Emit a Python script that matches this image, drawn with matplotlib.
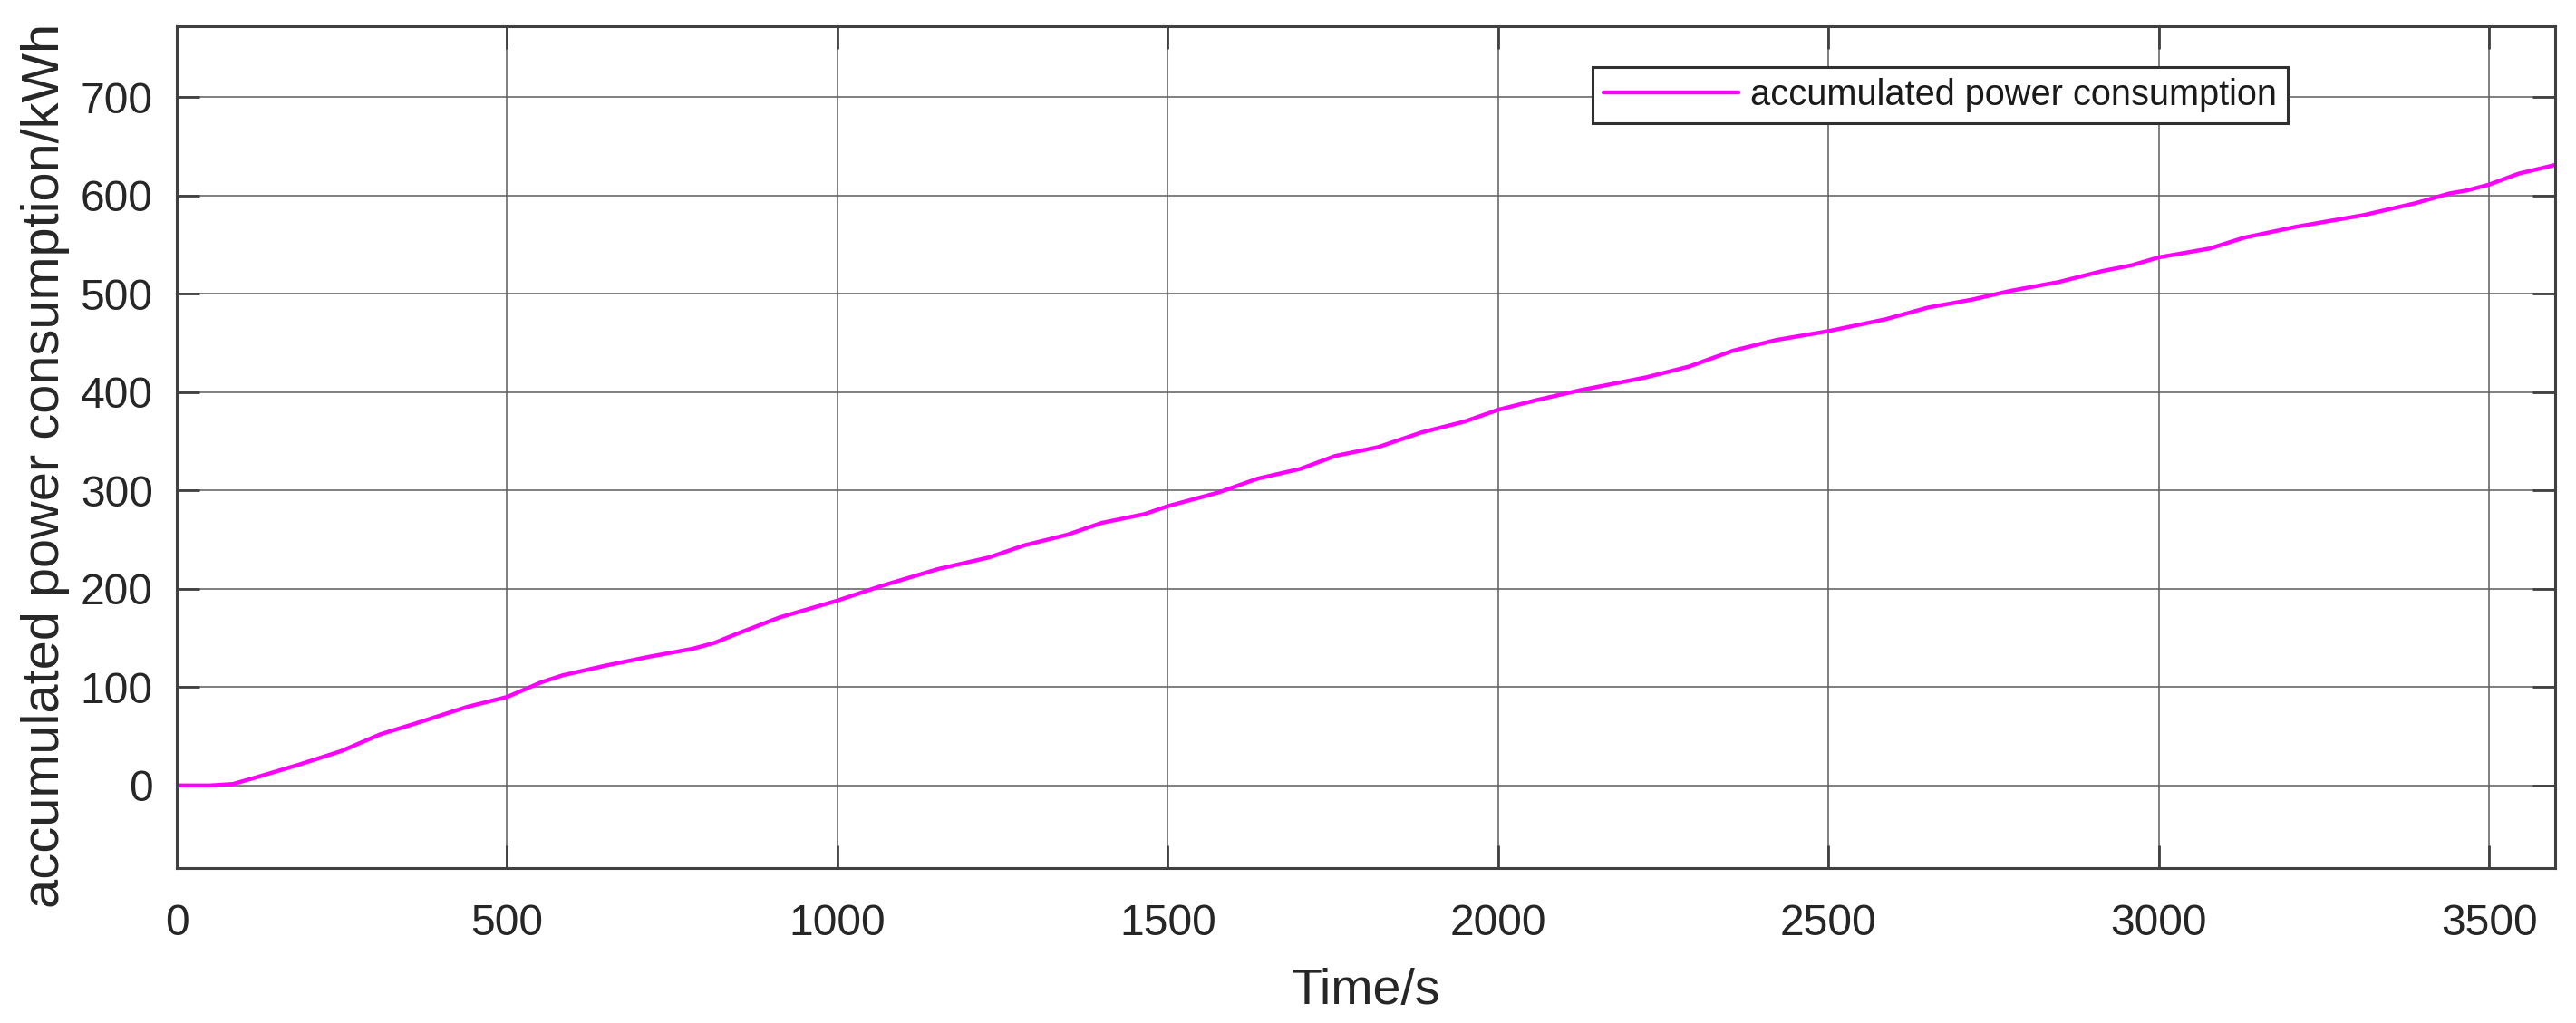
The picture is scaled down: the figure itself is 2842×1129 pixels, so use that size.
import matplotlib
matplotlib.use("Agg")
import matplotlib.pyplot as plt

# ---- data ----
time_s = [0, 50, 85, 124, 184, 249, 308, 361, 440, 500, 552, 584, 650, 716, 781,
          814, 847, 913, 1000, 1067, 1152, 1230, 1282, 1348, 1400, 1465, 1500,
          1577, 1636, 1701, 1753, 1818, 1884, 1949, 2000, 2059, 2125, 2224, 2289,
          2355, 2421, 2500, 2586, 2651, 2717, 2776, 2849, 2914, 2959, 3000, 3077,
          3129, 3207, 3310, 3388, 3440, 3466, 3500, 3544, 3600]
energy_kwh = [0, 0, 1.5, 9, 21, 35, 52, 63, 80, 90, 105, 112, 122, 131, 139,
              145, 154, 171, 188, 203, 220, 232, 244, 255, 267, 276, 284,
              298, 312, 322, 335, 344, 359, 370, 382, 392, 402, 415, 426,
              442, 453, 462, 474, 486, 494, 503, 512, 523, 529, 537, 546,
              557, 568, 580, 592, 602, 605, 611, 622, 631]
x_ticks = [0, 500, 1000, 1500, 2000, 2500, 3000, 3500]
y_ticks = [0, 100, 200, 300, 400, 500, 600, 700]
series_label = "accumulated power consumption"
x_label = "Time/s"
y_label = "accumulated power consumption/kWh"

plt.rcParams['font.family'] = ['Liberation Sans', 'DejaVu Sans']

W, H, DPI = 2842, 1129, 200
fig = plt.figure(figsize=(W / DPI, H / DPI), dpi=DPI)
ax = fig.add_axes([195 / W, 1 - 958 / H, (2819 - 195) / W, (958 - 29) / H])

ax.plot(time_s, energy_kwh, color='#FF00FF', lw=1.6, label=series_label,
        solid_joinstyle='round', solid_capstyle='round')

ax.set_xlim(0, 3600)
ax.set_ylim(-84, 772)
ax.set_xticks(x_ticks)
ax.set_yticks(y_ticks)

ax.grid(True, color='#5e5e5e', lw=0.65, alpha=0.85)
ax.set_axisbelow(True)

for s in ax.spines.values():
    s.set_color('#404040')
    s.set_linewidth(1.1)

ax.tick_params(axis='both', which='major', direction='in', length=9, width=1.0,
               color='#404040', labelcolor='#262626', labelsize=17.3,
               top=True, right=True)
ax.tick_params(axis='x', pad=14)
ax.tick_params(axis='y', pad=9.5)

ax.set_xlabel(x_label, fontsize=20, color='#262626')
ax.set_ylabel(y_label, fontsize=20.8, color='#262626')
ax.xaxis.set_label_coords(0.5, -0.118)
ax.yaxis.set_label_coords(-0.045, 0.478)

leg = ax.legend(loc='upper left', bbox_to_anchor=((1757 - 195) / 2624, (958 - 74) / 929),
                borderaxespad=0, fontsize=14.3, handlelength=3.75, handletextpad=0.33,
                borderpad=0.3, fancybox=False, framealpha=1, edgecolor='#303030')
leg.get_frame().set_linewidth(1.1)
for t in leg.get_texts():
    t.set_color('#1a1a1a')

fig.savefig('out.png', dpi=DPI, facecolor='white')
